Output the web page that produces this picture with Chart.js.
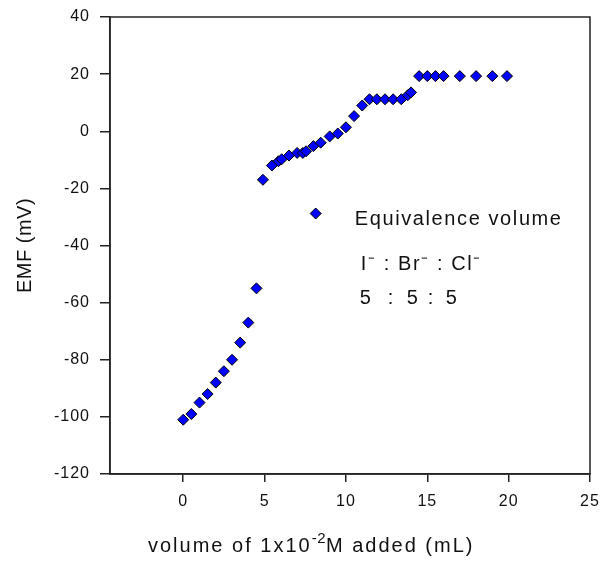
<!DOCTYPE html>
<html>
<head>
<meta charset="utf-8">
<script src="https://cdn.jsdelivr.net/npm/chart.js@4.4.0/dist/chart.umd.min.js"></script>
<style>
  body { margin: 0; background: #fff; }
  #wrap { width: 600px; height: 563px; }
</style>
</head>
<body>
<div id="wrap"><canvas id="chart-area"></canvas></div>
<script>
// titration data
var volume = [0, 0.5, 1, 1.5, 2, 2.5, 3, 3.5, 4, 4.5,
  4.9, 5.45, 5.85, 6.05, 6.5, 7, 7.35, 7.55, 8, 8.45, 9, 9.5, 10,
  10.5, 11, 11.45, 11.9, 12.4, 12.9, 13.4, 13.8, 14,
  14.5, 15, 15.5, 16, 17, 18, 19, 19.9];
var emf = [-101, -99, -95, -92, -88, -84, -80, -74, -67, -55,
  -17, -12, -10.5, -9.8, -8.5, -7.6, -7.6, -7, -5.2, -4, -1.8, -0.8, 1.4,
  5.3, 9, 11.2, 11.2, 11.2, 11.2, 11.2, 12.6, 13.6,
  19.3, 19.3, 19.3, 19.3, 19.3, 19.3, 19.3, 19.3];
var xTicks = [0, 5, 10, 15, 20, 25];
var yTicks = [-120, -100, -80, -60, -40, -20, 0, 20, 40];

var points = volume.map(function(v, i) { return { x: v, y: emf[i] }; });

var fontName = '"Liberation Sans", Arial, sans-serif';

var extras = {
  id: 'extras',
  beforeDraw: function(chart) {
    chart.ctx.letterSpacing = '1px';
  },
  afterDraw: function(chart) {
    var ctx = chart.ctx, a = chart.chartArea;
    var w = a.right - a.left, h = a.bottom - a.top;
    ctx.save();
    // frame
    ctx.strokeStyle = '#222';
    ctx.lineWidth = 1.5;
    ctx.strokeRect(a.left, a.top, w, h);

    // legend
    var mx = a.left + w * 0.4285, my = a.top + h * 0.43;
    ctx.beginPath();
    ctx.moveTo(mx, my - 5.5); ctx.lineTo(mx + 5.5, my); ctx.lineTo(mx, my + 5.5); ctx.lineTo(mx - 5.5, my);
    ctx.closePath();
    ctx.fillStyle = '#0000ff'; ctx.fill();
    ctx.strokeStyle = '#000'; ctx.lineWidth = 1; ctx.stroke();

    ctx.fillStyle = '#111';
    ctx.textAlign = 'left';
    ctx.textBaseline = 'alphabetic';
    ctx.font = '20px ' + fontName;
    ctx.letterSpacing = '1.6px';
    var lx = a.left + w * 0.51;
    ctx.fillText('Equivalence volume', lx, 225);
    ctx.fillText('I\u207B : Br\u207B : Cl\u207B', lx + 6, 270);
    var parts = ['5', ':', '5', ':', '5'], offs = [5, 33, 52, 73, 91];
    parts.forEach(function(s, i) { ctx.fillText(s, lx + offs[i], 304); });

    // y title
    ctx.save();
    ctx.translate(25, (a.top + a.bottom) / 2);
    ctx.rotate(-Math.PI / 2);
    ctx.textAlign = 'center';
    ctx.textBaseline = 'middle';
    ctx.letterSpacing = '0.5px';
    ctx.fillText('EMF (mV)', 0, 0);
    ctx.restore();

    // x title with superscript
    var y0 = 552, x0 = 148;
    ctx.letterSpacing = '2px';
    var p1 = 'volume of 1x10', p2 = '-2', p3 = 'M added (mL)';
    ctx.fillText(p1, x0, y0);
    var w1 = ctx.measureText(p1).width;
    ctx.font = '15px ' + fontName;
    ctx.letterSpacing = '0.5px';
    ctx.fillText(p2, x0 + w1, y0 - 9);
    var w2 = ctx.measureText(p2).width;
    ctx.font = '20px ' + fontName;
    ctx.letterSpacing = '2px';
    ctx.fillText(p3, x0 + w1 + w2, y0);
    ctx.restore();
  }
};

var config = {
  type: 'scatter',
  data: {
    datasets: [{
      label: 'Equivalence volume',
      data: points,
      pointStyle: 'rectRot',
      pointRadius: 5.5,
      pointHoverRadius: 5.5,
      backgroundColor: '#0000ff',
      borderColor: '#000',
      borderWidth: 1
    }]
  },
  options: {
    responsive: true,
    maintainAspectRatio: false,
    animation: false,
    layout: { padding: { top: 17, right: 10, left: 0, bottom: 0 } },
    plugins: {
      legend: { display: false },
      tooltip: { enabled: false }
    },
    scales: {
      x: {
        type: 'linear',
        min: -4.5,
        max: 25,
        afterBuildTicks: function(scale) {
          scale.ticks = xTicks.map(function(v) { return { value: v }; });
        },
        afterFit: function(scale) {
          scale.height = 89;
          scale.paddingLeft = 0;
          scale.paddingRight = 0;
        },
        grid: { drawOnChartArea: false, tickLength: 8, color: '#222', lineWidth: 1.5 },
        border: { color: '#222', width: 1.5 },
        ticks: { color: '#111', padding: 10, font: { family: fontName, size: 16 } }
      },
      y: {
        min: -120,
        max: 40,
        afterBuildTicks: function(scale) {
          scale.ticks = yTicks.map(function(v) { return { value: v }; });
        },
        afterFit: function(scale) {
          scale.width = 110;
          scale.paddingTop = 0;
          scale.paddingBottom = 0;
        },
        grid: { drawOnChartArea: false, tickLength: 10, color: '#222', lineWidth: 1.5 },
        border: { color: '#222', width: 1.5 },
        ticks: { color: '#111', padding: 10, font: { family: fontName, size: 16 } }
      }
    }
  },
  plugins: [extras]
};

window.onload = function() {
  var ctx = document.getElementById('chart-area').getContext('2d');
  window.myScatter = new Chart(ctx, config);
};
</script>
</body>
</html>
